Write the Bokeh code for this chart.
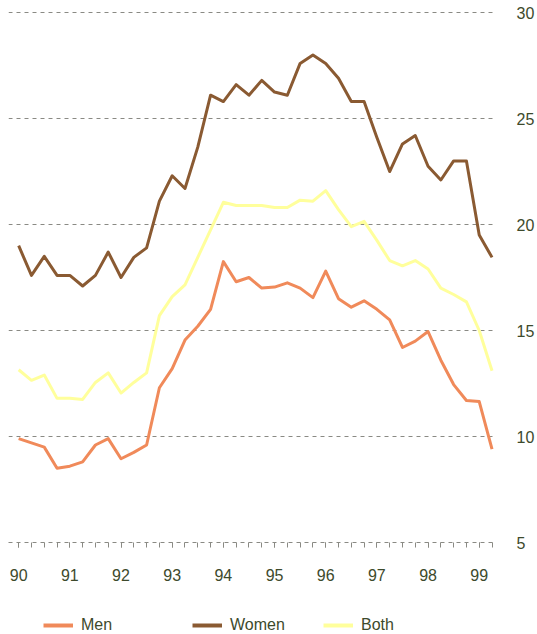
from bokeh.plotting import figure
from bokeh.models import FixedTicker, Legend, LegendItem, Range1d
from bokeh.layouts import column
from bokeh.embed import file_html
from bokeh.resources import INLINE

# Quarterly data, 1990 Q1 .. 1999 Q2
years = ["90", "91", "92", "93", "94", "95", "96", "97", "98", "99"]
women = [19.0, 17.6, 18.5, 17.6, 17.6, 17.1, 17.6, 18.7, 17.5, 18.45,
         18.9, 21.1, 22.3, 21.7, 23.65, 26.1, 25.8, 26.6, 26.1, 26.8,
         26.25, 26.1, 27.6, 28.0, 27.6, 26.9, 25.8, 25.8, 24.1, 22.5,
         23.8, 24.2, 22.75, 22.1, 23.0, 23.0, 19.5, 18.45]
men = [9.9, 9.7, 9.5, 8.5, 8.6, 8.8, 9.6, 9.9, 8.95, 9.25,
       9.6, 12.3, 13.2, 14.55, 15.2, 16.0, 18.25, 17.3, 17.5, 17.0,
       17.05, 17.25, 17.0, 16.55, 17.8, 16.5, 16.1, 16.4, 16.0, 15.5,
       14.2, 14.5, 14.95, 13.6, 12.45, 11.7, 11.65, 9.4]
both = [13.15, 12.65, 12.9, 11.8, 11.8, 11.75, 12.55, 13.0, 12.05, 12.55,
        13.0, 15.7, 16.6, 17.15, 18.45, 19.75, 21.05, 20.9, 20.9, 20.9,
        20.8, 20.8, 21.15, 21.1, 21.6, 20.7, 19.9, 20.15, 19.25, 18.3,
        18.05, 18.3, 17.9, 17.0, 16.7, 16.35, 15.0, 13.1]
y_ticks = [5, 10, 15, 20, 25, 30]
series_names = ["Men", "Women", "Both"]
series_colors = ["#f08a5a", "#8a5a32", "#ffff9c"]

x = list(range(len(women)))
year_pos = [i * 4 for i in range(len(years))]
data = {"Men": men, "Women": women, "Both": both}

FONT = "Liberation Sans"
TXT = "#3d4a2c"
GRID = "#8a8a84"
W = 537

p = figure(width=W, height=592, output_backend="svg",
           toolbar_location=None, x_range=Range1d(-0.795, 37.35),
           y_range=Range1d(5.0, 30.19), y_axis_location="right",
           min_border_left=8, min_border_top=8, min_border_right=35,
           min_border_bottom=50)
p.outline_line_color = None
p.background_fill_color = "white"
p.border_fill_color = "white"

# x axis
xa = p.xaxis[0]
xa.ticker = FixedTicker(ticks=year_pos, minor_ticks=x)
xa.major_label_overrides = {pos: lab for pos, lab in zip(year_pos, years)}
xa.axis_line_color = GRID
xa.axis_line_dash = "4 4"
xa.major_tick_line_color = GRID
xa.minor_tick_line_color = GRID
xa.major_tick_in = 0
xa.major_tick_out = 5
xa.minor_tick_in = 0
xa.minor_tick_out = 5
xa.major_label_standoff = 21
xa.major_label_text_font = FONT
xa.major_label_text_font_size = "16px"
xa.major_label_text_color = TXT

# y axis (right)
ya = p.yaxis[0]
ya.ticker = FixedTicker(ticks=y_ticks)
ya.axis_line_color = None
ya.major_tick_line_color = None
ya.minor_tick_line_color = None
ya.major_label_standoff = 14
ya.major_label_text_font = FONT
ya.major_label_text_font_size = "16px"
ya.major_label_text_color = TXT

p.xgrid.grid_line_color = None
p.ygrid.ticker = FixedTicker(ticks=y_ticks)
p.ygrid.grid_line_color = GRID
p.ygrid.grid_line_dash = "4 4"
p.ygrid.grid_line_width = 1

for name in ["Both", "Men", "Women"]:
    c = series_colors[series_names.index(name)]
    p.line(x, data[name], line_color=c, line_width=3, line_join="round")

# legend strip below the chart (series drawn out of view, only the legend shows)
lf = figure(width=W, height=42, output_backend="svg", toolbar_location=None,
            x_axis_type=None, y_axis_type=None,
            x_range=Range1d(-200, -199), y_range=Range1d(-200, -199),
            min_border_left=0, min_border_right=0, min_border_top=0,
            min_border_bottom=0)
lf.outline_line_color = None
lf.xgrid.grid_line_color = None
lf.ygrid.grid_line_color = None
for name, c, lx in zip(series_names, series_colors, [35, 184, 315]):
    r = lf.line(x, data[name], line_color=c, line_width=4)
    lg = Legend(items=[LegendItem(label=name, renderers=[r])],
                location=(lx, 0), orientation="horizontal",
                padding=0, margin=0, border_line_color=None,
                background_fill_alpha=0, glyph_width=30, glyph_height=16,
                label_height=16, label_standoff=8, label_text_font=FONT,
                label_text_font_size="16px", label_text_color=TXT)
    lf.add_layout(lg, "center")

layout = column(p, lf, spacing=0)
open("out.html", "w").write(file_html(layout, INLINE))
